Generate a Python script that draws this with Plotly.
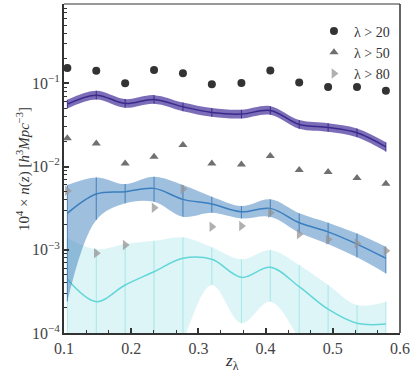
import plotly.graph_objects as go

# redshift bins
z = [0.105, 0.148, 0.191, 0.234, 0.277, 0.320, 0.364, 0.407, 0.450, 0.493, 0.536, 0.579]

# measured densities (points)
n_l20 = [0.152, 0.141, 0.100, 0.144, 0.132, 0.097, 0.101, 0.142, 0.102, 0.090, 0.090, 0.081]
n_l50 = [0.0219, 0.0189, 0.0109, 0.0131, 0.0181, 0.0109, 0.0106, 0.0134, 0.0091, 0.0086, 0.0073, 0.0062]
n_l80 = [0.0051, 0.00091, 0.00114, 0.00319, 0.00535, 0.00189, 0.00193, 0.00278, 0.00154, 0.00133, 0.00119, 0.00097]

# model curves with bands
purple_mid = [0.0561, 0.0720, 0.0572, 0.0639, 0.0521, 0.0446, 0.0426, 0.0471, 0.0320, 0.0294, 0.0254, 0.0172]
purple_lo = [0.0498, 0.0639, 0.0507, 0.0567, 0.0462, 0.0396, 0.0378, 0.0418, 0.0284, 0.0261, 0.0225, 0.0151]
purple_hi = [0.0632, 0.0811, 0.0645, 0.0720, 0.0587, 0.0503, 0.0480, 0.0531, 0.0361, 0.0331, 0.0286, 0.0195]

blue_mid = [0.00274, 0.00467, 0.00497, 0.00546, 0.00403, 0.00354, 0.00286, 0.00314, 0.00211, 0.00164, 0.00117, 0.00079]
blue_lo = [0.00024, 0.00228, 0.00361, 0.00377, 0.00249, 0.00278, 0.00238, 0.00249, 0.00160, 0.00117, 0.00081, 0.00052]
blue_hi = [0.00598, 0.00740, 0.00615, 0.00752, 0.00598, 0.00433, 0.00335, 0.00403, 0.00274, 0.00211, 0.00157, 0.00109]

cyan_mid = [0.000441, 0.000238, 0.000377, 0.000545, 0.000789, 0.000767, 0.000466, 0.000615, 0.000360, 0.000193, 0.000131, 0.000128]
cyan_lo = [0.00001, 0.00001, 0.00001, 0.00001, 0.00008, 0.000377, 0.000131, 0.000238, 0.000085, 0.00002, 0.00001, 0.00001]
cyan_hi = [0.00138, 0.00101, 0.00117, 0.00128, 0.00141, 0.00107, 0.000767, 0.000992, 0.000655, 0.000377, 0.000217, 0.000238]

SERIF = "Liberation Serif"

fig = go.Figure()


def add_band(mid, lo, hi, line_color, fill_color, bar_color):
    fig.add_trace(go.Scatter(
        x=z, y=lo, mode="lines", line=dict(width=0, shape="spline"),
        showlegend=False, hoverinfo="skip",
    ))
    fig.add_trace(go.Scatter(
        x=z, y=hi, mode="lines", line=dict(width=0, shape="spline"),
        fill="tonexty", fillcolor=fill_color,
        showlegend=False, hoverinfo="skip",
    ))
    fig.add_trace(go.Scatter(
        x=z, y=mid, mode="lines", line=dict(color=line_color, width=1.5, shape="spline"),
        error_y=dict(
            type="data", symmetric=False,
            array=[h - m for h, m in zip(hi, mid)],
            arrayminus=[m - l for m, l in zip(mid, lo)],
            color=bar_color, thickness=1, width=0,
        ),
        showlegend=False, hoverinfo="skip",
    ))


add_band(cyan_mid, cyan_lo, cyan_hi, "#62d6d8", "rgba(175,230,235,0.42)", "rgba(98,214,216,0.45)")
add_band(blue_mid, blue_lo, blue_hi, "#3a7fbf", "rgba(63,128,190,0.5)", "rgba(46,112,176,0.8)")
add_band(purple_mid, purple_lo, purple_hi, "#3b2a8c", "rgba(80,60,160,0.75)", "rgba(50,35,130,0.9)")

# data points
fig.add_trace(go.Scatter(
    x=z, y=n_l20, mode="markers", name="λ > 20",
    marker=dict(symbol="circle", size=8, color="#333333"),
))
fig.add_trace(go.Scatter(
    x=z, y=n_l50, mode="markers", name="λ > 50",
    marker=dict(symbol="triangle-up", size=8, color="#707070"),
))
fig.add_trace(go.Scatter(
    x=z, y=n_l80, mode="markers", name="λ > 80",
    marker=dict(symbol="triangle-right", size=9, color="rgba(150,150,150,0.75)"),
))

# y title and x title
fig.add_annotation(
    x=-0.155, y=0.5, xref="paper", yref="paper", textangle=-90,
    text="10<sup>4</sup> × <i>n</i>(<i>z</i>) [<i>h</i><sup>3</sup><i>Mpc</i><sup>−3</sup>]",
    showarrow=False, font=dict(family=SERIF, size=15, color="#333333"),
)
fig.add_annotation(
    x=0.5, y=-0.05, xref="paper", yref="paper", yanchor="top",
    text="<i>z</i><sub>λ</sub>",
    showarrow=False, font=dict(family=SERIF, size=17, color="#333333"),
)

# thin top / right frame
fig.add_shape(type="line", xref="paper", yref="paper", x0=0, x1=1, y0=1, y1=1,
              line=dict(color="#333333", width=1))
fig.add_shape(type="line", xref="paper", yref="paper", x0=1, x1=1, y0=0, y1=1,
              line=dict(color="#333333", width=1.5))

fig.update_layout(
    width=416,
    height=377,
    margin=dict(l=64, r=16, t=4, b=44),
    plot_bgcolor="white",
    paper_bgcolor="white",
    font=dict(family=SERIF, color="#333333"),
    xaxis=dict(
        range=[0.1, 0.6],
        automargin=False,
        tickvals=[0.1, 0.2, 0.3, 0.4, 0.5, 0.6],
        ticktext=["0.1", "0.2", "0.3", "0.4", "0.5", "0.6"],
        ticks="inside", ticklen=5, tickwidth=2, tickcolor="#333333",
        minor=dict(ticks="inside", ticklen=3, tickwidth=1, tickcolor="#333333",
                   tick0=0.1, dtick=0.1 / 3),
        showgrid=False, zeroline=False,
        showline=True, linewidth=2, linecolor="#333333",
        tickfont=dict(family=SERIF, size=16, color="#444444"),
    ),
    yaxis=dict(
        type="log",
        range=[-4, -0.048],
        automargin=False,
        tickvals=[1e-4, 1e-3, 1e-2, 1e-1],
        ticktext=["10<sup>−4</sup>", "10<sup>−3</sup>", "10<sup>−2</sup>", "10<sup>−1</sup>"],
        ticks="inside", ticklen=5, tickwidth=2, tickcolor="#333333",
        minor=dict(ticks="inside", ticklen=3, tickwidth=1, tickcolor="#333333", dtick="D1"),
        showgrid=False, zeroline=False,
        showline=True, linewidth=2, linecolor="#333333",
        tickfont=dict(family=SERIF, size=16, color="#444444"),
        ticklabelstandoff=-1,
    ),
    legend=dict(
        x=0.985, y=0.965, xanchor="right", yanchor="top",
        traceorder="normal",
        bgcolor="rgba(0,0,0,0)",
        font=dict(family=SERIF, size=14, color="#333333"),
        tracegroupgap=0,
    ),
)

# drop the browser's default body margin so the figure sits at the page corner
fig.write_html("out.html", config={"displayModeBar": False},
               post_script="document.body.style.margin='0';")
